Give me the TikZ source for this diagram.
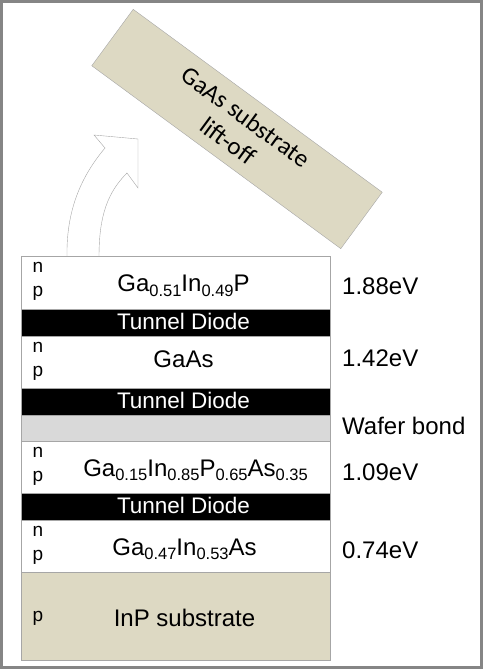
\documentclass[tikz,border=0pt]{standalone}
\usepackage{fontspec}
\setmainfont{Liberation Sans}
\newfontfamily\boxfont{Carlito}
\usetikzlibrary{positioning}
\definecolor{tan}{HTML}{DDD9C3}
\definecolor{bondgray}{HTML}{D9D9D9}
\definecolor{edgegray}{HTML}{A6A6A6}
\definecolor{framegray}{HTML}{858585}
\newcommand{\sub}[1]{\raisebox{-4.5pt}{\fontsize{16.5}{16}\selectfont #1}}

\begin{document}
\begin{tikzpicture}[x=1pt, y=-1pt]
    \tikzstyle{layer} = [rectangle, draw=edgegray, fill=white, minimum width=309pt, minimum height=52pt, inner sep=0pt, outer sep=0pt]
    \tikzstyle{tunnel} = [layer, fill=black, minimum height=27pt]
    \tikzstyle{material} = [inner sep=0pt, font=\fontsize{24}{28}\selectfont]
    \tikzstyle{tunneltext} = [inner sep=0pt, text=white, font=\fontsize{22.5}{26}\selectfont]
    \tikzstyle{doping} = [inner sep=0pt, font=\fontsize{19}{22}\selectfont]
    \tikzstyle{gap} = [inner sep=0pt, anchor=west, font=\fontsize{24}{28}\selectfont]

    \useasboundingbox (0,0) rectangle (483,669);
    \draw [framegray, line width=3pt] (1.5,1.5) rectangle (481.5,667.5);

    % curved lift-off arrow
    \draw [edgegray, fill=white] (67,257) .. controls (66,205) and (85,172) .. (105,148)
        -- (94,135) -- (138,139) -- (138,188) -- (127,173)
        .. controls (108,192) and (99,215) .. (99,257);

    \node [rectangle, draw=edgegray, fill=tan, minimum width=309pt, minimum height=70pt, rotate=-36.3,
        align=center, font=\boxfont\fontsize{25}{30}\selectfont] (liftoff) at (237,129) {GaAs substrate\\lift-off};

    % layer stack
    \node [layer, anchor=north west, minimum height=53pt] (top) at (21,256) {};
    \node [tunnel, below=0pt of top] (td1) {};
    \node [layer, below=0pt of td1] (mid) {};
    \node [tunnel, below=0pt of mid] (td2) {};
    \node [layer, fill=bondgray, minimum height=26pt, below=0pt of td2] (bond) {};
    \node [layer, below=0pt of bond] (low) {};
    \node [tunnel, below=0pt of low] (td3) {};
    \node [layer, below=0pt of td3] (bot) {};
    \node [layer, fill=tan, minimum height=88pt, below=0pt of bot] (sub) {};

    \node [material] (topm) at ([xshift=8pt, yshift=-3pt]top.center) {Ga\sub{0.51}In\sub{0.49}P};
    \node [material] (midm) at ([xshift=8pt, yshift=3pt]mid.center) {GaAs};
    \node [material] (lowm) at ([xshift=20pt, yshift=-3pt]low.center) {Ga\sub{0.15}In\sub{0.85}P\sub{0.65}As\sub{0.35}};
    \node [material] (botm) at ([xshift=9pt, yshift=-3pt]bot.center) {Ga\sub{0.47}In\sub{0.53}As};
    \node [material] (subm) at ([xshift=9pt, yshift=-2pt]sub.center) {InP substrate};

    \foreach \t in {td1, td2, td3}
        \node [tunneltext] (\t-text) at ([xshift=8pt, yshift=1pt]\t.center) {Tunnel Diode};

    \foreach \c in {top, mid, low, bot} {
        \node [doping] (\c-n) at ([xshift=17pt, yshift=-11pt]\c.north west) {n};
        \node [doping] (\c-p) at ([xshift=17pt, yshift=-37pt]\c.north west) {p};
    }
    \node [doping] (sub-p) at ([xshift=17pt, yshift=-2pt]sub.west) {p};

    \node [gap] (e1) at ([xshift=12pt, yshift=-4pt]top.east) {1.88eV};
    \node [gap] (e2) at ([xshift=12pt, yshift=4pt]mid.east) {1.42eV};
    \node [gap] (wb) at ([xshift=12pt, yshift=2pt]bond.east) {Wafer bond};
    \node [gap] (e3) at ([xshift=12pt, yshift=-5pt]low.east) {1.09eV};
    \node [gap] (e4) at ([xshift=12pt, yshift=-4pt]bot.east) {0.74eV};
\end{tikzpicture}
\end{document}
